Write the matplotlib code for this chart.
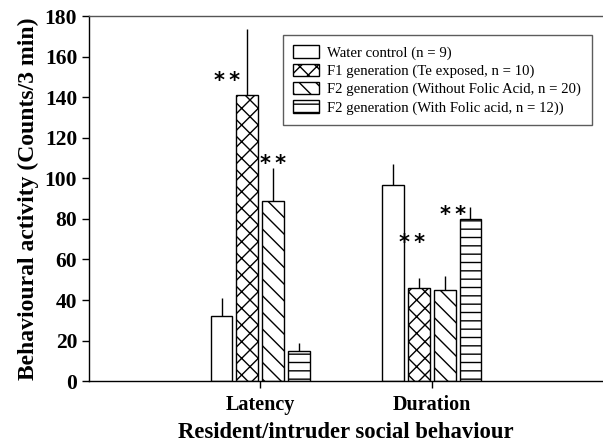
import matplotlib
matplotlib.use("Agg")
import matplotlib.pyplot as plt
import numpy as np

plt.rcParams['font.family'] = ['Liberation Serif', 'DejaVu Serif']
plt.rcParams['hatch.linewidth'] = 1.0

categories = ["Latency", "Duration"]
series_labels = [
    "Water control (n = 9)",
    "F1 generation (Te exposed, n = 10)",
    "F2 generation (Without Folic Acid, n = 20)",
    "F2 generation (With Folic acid, n = 12))",
]
means = [
    [32, 97],    # water control
    [141, 46],   # F1
    [89, 45],    # F2 without folic acid
    [15, 80],    # F2 with folic acid
]
errors = [
    [9, 10],
    [33, 5],
    [16, 7],
    [4, 6],
]
hatches = ["", "xx", "\\\\", "--"]

# significance marks: (category index, series index, y position)
stars = [(0, 1, 148), (0, 2, 107), (1, 1, 68), (1, 3, 82)]

fig = plt.figure(figsize=(6.03, 4.42), dpi=100)
ax = fig.add_axes([0.1476, 0.138, 0.8524, 0.8247])

x = np.arange(1, len(categories) + 1)
width = 0.128
step = 0.151
offsets = (np.arange(len(means)) - 1.5) * step

for i, (vals, errs, h, lab) in enumerate(zip(means, errors, hatches, series_labels)):
    pos = x + offsets[i]
    ax.bar(pos, vals, width, facecolor="white", edgecolor="black",
           hatch=h, linewidth=1.0, label=lab, zorder=2)
    ax.errorbar(pos, vals, yerr=[np.zeros(len(errs)), errs], fmt="none",
                ecolor="black", elinewidth=1.0, capsize=0, zorder=1)

for ci, si, yv in stars:
    xs = x[ci] + offsets[si]
    if (ci, si) == (0, 1):
        xs -= 0.12
    elif (ci, si) == (1, 1):
        xs -= 0.04
    elif (ci, si) == (1, 3):
        xs -= 0.10
    ax.text(xs, yv, "*\u2009*", ha="center", va="center", fontsize=15,
            fontweight="bold", family="DejaVu Sans")

ax.set_xlim(0, 3)
ax.set_ylim(0, 180)
ax.set_xticks(x)
ax.set_xticklabels(categories, fontsize=14.5, fontweight="bold")
ax.set_yticks(np.arange(0, 181, 20))
ax.set_yticklabels([str(v) for v in range(0, 181, 20)], fontsize=15.5, fontweight="bold")
ax.tick_params(axis="both", direction="out", length=5, width=1)
ax.tick_params(axis="x", pad=5)
ax.spines["right"].set_visible(False)
for s in ["left", "bottom", "top"]:
    ax.spines[s].set_linewidth(1.0)
ax.spines["top"].set_color("#555555")

ax.set_ylabel("Behavioural activity (Counts/3 min)", fontsize=17, fontweight="bold",
              labelpad=4)
ax.set_xlabel("Resident/intruder social behaviour", fontsize=16.3, fontweight="bold",
              labelpad=5)

leg = ax.legend(loc="upper left", bbox_to_anchor=(0.377, 0.95), fontsize=10.6,
                frameon=True, fancybox=False, edgecolor="#333333",
                handlelength=1.75, handleheight=0.9, borderpad=0.72,
                labelspacing=0.27, handletextpad=0.55, borderaxespad=0)
leg.get_frame().set_linewidth(1.0)

fig.savefig("out.png", dpi=100)
